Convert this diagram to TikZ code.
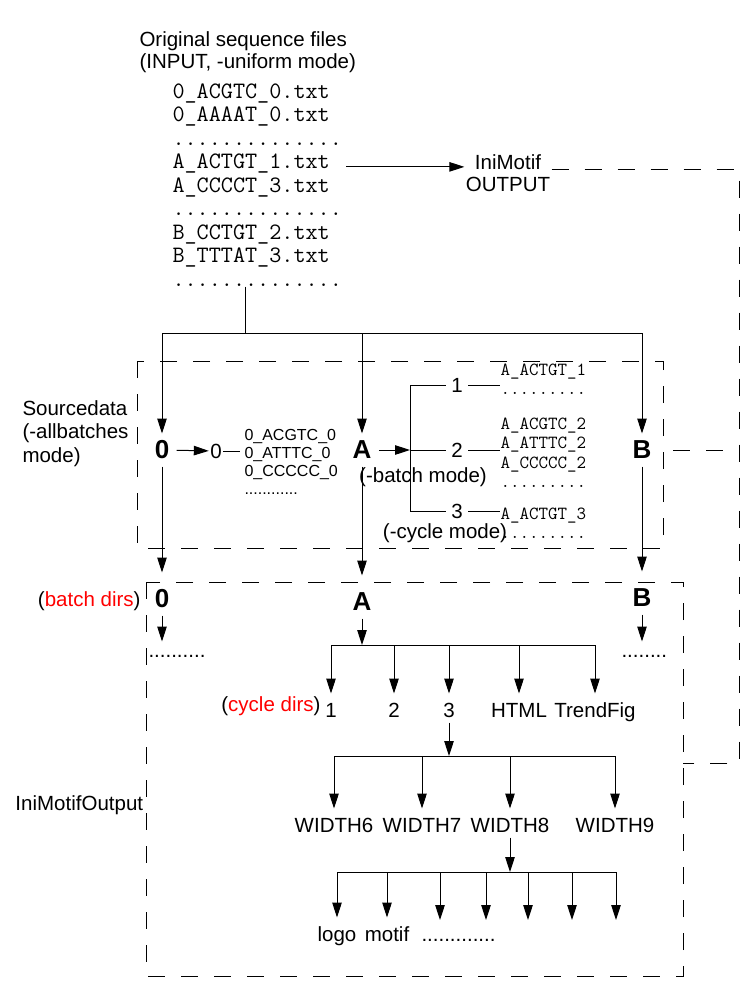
\documentclass[tikz,border=0pt]{standalone}
\usepackage{fontspec}
\setmainfont{Liberation Sans}
\usetikzlibrary{arrows.meta}

\begin{document}
\begin{tikzpicture}[
  x=1pt, y=-1pt, line width=1pt,
  every node/.style={inner sep=0pt},
  lbl/.style={font=\fontsize{20.5}{22.5}\selectfont, inner sep=1pt},
  leaf/.style={lbl, text height=22pt, text depth=4pt, anchor=base},
  dirname/.style={font=\fontsize{26}{26}\selectfont\bfseries,
    minimum height=32pt, inner xsep=7pt},
  filelist/.style={font=\fontsize{18.5}{19.5}\selectfont\ttfamily,
    align=left, anchor=north west},
  arr/.style={-{Triangle[length=15pt,width=9.5pt]}},
  inarr/.style={arr, shorten >=10pt},
  dashline/.style={dash pattern=on 17pt off 16pt}]
\useasboundingbox (0,0) rectangle (750,983);
\coordinate (srcNW) at (137,361);
\coordinate (srcSE) at (663,548);
\coordinate (outNW) at (146,582);
\coordinate (outSE) at (683,976);
\coordinate (rail) at (739,763);
\draw[dashline] (srcNW) rectangle (srcSE);
\draw[dashline] (outNW) rectangle (outSE);
\node[lbl, align=left, anchor=north west] (title) at (138,30)
  {Original sequence files\\(INPUT, -uniform mode)};
\node[font=\fontsize{23.5}{23.5}\selectfont\ttfamily, align=left,
  anchor=north west, inner xsep=4pt] (seqfiles) at (168,83)
  {0\_ACGTC\_0.txt\\0\_AAAAT\_0.txt\\..............\\
   A\_ACTGT\_1.txt\\A\_CCCCT\_3.txt\\..............\\
   B\_CCTGT\_2.txt\\B\_TTTAT\_3.txt\\..............};
\node[lbl, align=center] (output) at (508,173) {IniMotif\\OUTPUT};
\draw[arr] (seqfiles.east |- output.172) -- (output.172);
\draw[dashline] (output.4) -| (rail) -- (rail -| outSE);
\coordinate (split) at (245,333);
\draw (seqfiles.south -| split) -- (split);
\node[font=\fontsize{20.5}{23.5}\selectfont, align=left, anchor=north west]
  (srclabel) at (22,400) {Sourcedata\\(-allbatches\\mode)};
\node[dirname] (srczero) at (162,450) {0};
\node[dirname] (srcA) at (362,450) {A};
\node[dirname] (srcB) at (642,450) {B};
\foreach \d in {srczero,srcA,srcB}
  \draw[arr] (split) -| (\d);
\node[lbl] (subzero) at (216,451) {0};
\draw[arr] (srczero) -- (subzero);
\node[font=\fontsize{16}{18}\selectfont, align=left, anchor=north west,
  inner xsep=4pt] (zerofiles) at (240,428.5)
  {0\_ACGTC\_0\\0\_ATTTC\_0\\0\_CCCCC\_0\\............};
\draw (subzero) -- (subzero -| zerofiles.west);
\coordinate (fork) at (410,450);
\draw[arr] (srcA) -- (fork);
\node[lbl, inner xsep=5pt] (cycone) at (457,385) {1};
\node[lbl, inner xsep=5pt] (cyctwo) at (457,450) {2};
\node[lbl, inner xsep=5pt] (cycthree) at (457,511) {3};
\draw (cycone) -| (fork |- cycthree) -- (cycthree);
\draw (fork) -- (cyctwo);
\node[filelist] (onefiles) at (500,363) {A\_ACTGT\_1\\.........};
\node[filelist] (twofiles) at (500,417)
  {A\_ACGTC\_2\\A\_ATTTC\_2\\A\_CCCCC\_2\\.........};
\node[filelist] (threefiles) at (500,507) {A\_ACTGT\_3\\.........};
\draw (cycone) -- (cycone -| onefiles.west);
\draw (cyctwo) -- (cyctwo -| twofiles.west);
\draw (cycthree) -- (cycthree -| threefiles.west);
\node[lbl] (batchmode) at (423,477) {(-batch mode)};
\node[lbl] (cyclemode) at (445,533) {(-cycle mode)};
\draw[dashline, dash phase=23pt] (srcSE |- srcB) -- (srcB -| rail);
\node[dirname] (batzero) at (162,599) {0};
\node[dirname] (batA) at (362,602) {A};
\node[dirname] (batB) at (642,598) {B};
\draw[inarr] (srczero) -- (batzero);
\draw[inarr] (srcA) -- (batA);
\draw[inarr] (srcB) -- (batB);
\node[lbl, anchor=base east] (batchlabel) at (142,606)
  {(\textcolor{red}{batch dirs})};
\node[lbl, anchor=base west, text height=14pt] (zerodots) at (147,657)
  {..........};
\node[lbl, anchor=base west, text height=14pt] (Bdots) at (620,657)
  {........};
\draw[arr] (batzero) -- (batzero |- zerodots.north);
\draw[arr] (batB) -- (batB |- Bdots.north);
\coordinate (cycbar) at (362,645);
\draw[arr] (batA) -- (cycbar);
\node[lbl, anchor=base east] (cyclelabel) at (322,711)
  {(\textcolor{red}{cycle dirs})};
\node[leaf] (cycleone) at (331,717) {1};
\node[leaf] (cycletwo) at (394,717) {2};
\node[leaf] (cyclethree) at (449,717) {3};
\node[leaf] (html) at (519,717) {HTML};
\node[leaf] (trendfig) at (595,717) {TrendFig};
\draw (cycleone |- cycbar) -- (trendfig |- cycbar);
\foreach \n in {cycleone,cycletwo,cyclethree,html,trendfig}
  \draw[arr] (\n |- cycbar) -- (\n);
\node[lbl, anchor=base west] (outlabel) at (14,810) {IniMotifOutput};
\coordinate (widthbar) at (449,756);
\draw[arr] (cyclethree) -- (widthbar);
\node[leaf] (widthsix) at (334,832) {WIDTH6};
\node[leaf] (widthseven) at (422,832) {WIDTH7};
\node[leaf] (widtheight) at (510,832) {WIDTH8};
\node[leaf] (widthnine) at (615,832) {WIDTH9};
\draw (widthsix |- widthbar) -- (widthnine |- widthbar);
\foreach \n in {widthsix,widthseven,widtheight,widthnine}
  \draw[arr] (\n |- widthbar) -- (\n);
\coordinate (filebar) at (510,872);
\draw[arr] (widtheight) -- (filebar);
\node[leaf] (logo) at (337,941) {logo};
\node[leaf] (motif) at (387,941) {motif};
\node[lbl, anchor=base west] (moredots) at (420,941) {.............};
\foreach \x [count=\i] in {440,486,528,572,616}
  \coordinate (file\i) at (\x,920);
\draw (logo |- filebar) -- (file5 |- filebar);
\foreach \n in {logo,motif,file1,file2,file3,file4,file5}
  \draw[arr] (\n |- filebar) -- (\n);
\end{tikzpicture}
\end{document}
